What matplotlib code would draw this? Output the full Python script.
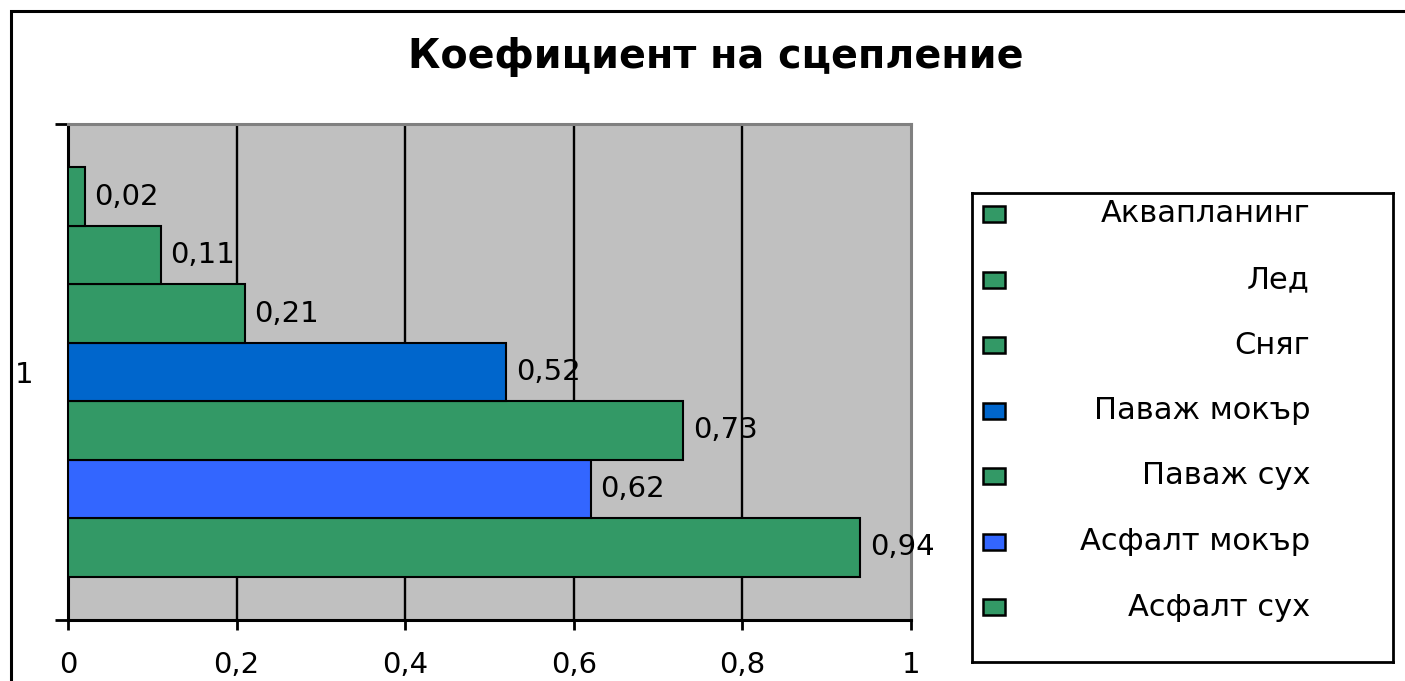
import matplotlib
matplotlib.use('agg')
import matplotlib.pyplot as plt
from matplotlib.patches import Rectangle

# data (bottom bar first, as drawn)
labels = ['Асфалт сух', 'Асфалт мокър', 'Паваж сух', 'Паваж мокър', 'Сняг', 'Лед', 'Аквапланинг']
values = [0.94, 0.62, 0.73, 0.52, 0.21, 0.11, 0.02]
colors = ['#339966', '#3366FF', '#339966', '#0066CC', '#339966', '#339966', '#339966']
x_ticks = [0, 0.2, 0.4, 0.6, 0.8, 1]
x_tick_labels = ['0', '0,2', '0,4', '0,6', '0,8', '1']
title = 'Коефициент на сцепление'

plt.rcParams['font.family'] = ['DejaVu Sans']

W, H = 1405, 681
fig = plt.figure(figsize=(W / 100, H / 100), dpi=100)

def box(l, t, r, b):
    # pixel box -> figure fraction [left, bottom, width, height]
    return [l / W, 1 - b / H, (r - l) / W, (b - t) / H]

# outer chart frame (runs off the right and bottom of the picture)
fig.patches.append(Rectangle((11 / W, -0.1), 1.2, 1 - 11 / H + 0.1, transform=fig.transFigure,
                             fill=False, edgecolor='black', linewidth=2.2))

ax = fig.add_axes(box(68, 124, 911, 620))
ax.set_facecolor('#C0C0C0')
pos = list(range(len(values)))
ax.barh(pos, values, height=1.0, color=colors, edgecolor='black', linewidth=1.5, zorder=3)

for p, v in zip(pos, values):
    ax.text(v + 0.011, p, ('%.2f' % v).replace('.', ','), va='center', ha='left',
            fontsize=21, zorder=4)

ax.set_xlim(0, 1)
ax.set_ylim(-1.24, len(values) - 1 + 1.24)
ax.set_xticks(x_ticks)
ax.set_xticklabels(x_tick_labels, fontsize=21)
ax.tick_params(axis='x', direction='out', length=7.5, width=2, pad=15)
for gx in x_ticks[1:-1]:
    ax.axvline(gx, color='black', linewidth=1.7, zorder=1)

ax.set_yticks([(len(values) - 1) / 2])
ax.set_yticklabels(['1'], fontsize=21)
ax.tick_params(axis='y', length=0, pad=25)
ax.set_yticks([ax.get_ylim()[0], ax.get_ylim()[1]], minor=True)
ax.tick_params(axis='y', which='minor', direction='out', length=9.5, width=2)

ax.spines['left'].set_linewidth(2.2)
ax.spines['bottom'].set_linewidth(2.2)
ax.spines['top'].set_color('#808080')
ax.spines['right'].set_color('#808080')
ax.spines['top'].set_linewidth(2.2)
ax.spines['right'].set_linewidth(2.2)

fig.text(716 / W, 1 - 57 / H, title, ha='center', va='center', fontsize=28.5, fontweight='bold')

# legend box, entries listed top to bottom
lg = fig.add_axes(box(972, 193, 1393, 662))
lg.set_xlim(0, 421)
lg.set_ylim(469, 0)
lg.set_xticks([])
lg.set_yticks([])
for s in lg.spines.values():
    s.set_linewidth(2)
for i, (lab, c) in enumerate(zip(labels[::-1], colors[::-1])):
    yc = 21 + 65.5 * i
    lg.add_patch(Rectangle((11, yc - 8), 22, 16, facecolor=c, edgecolor='black', linewidth=1.8))
    lg.text(338, yc, lab, ha='right', va='center', fontsize=22)

fig.savefig('out.png', dpi=100)
